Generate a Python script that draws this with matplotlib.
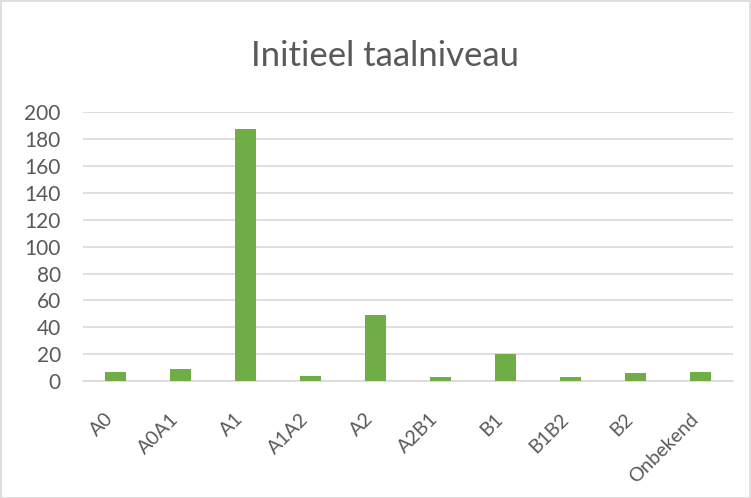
import matplotlib
matplotlib.use("Agg")
import matplotlib.pyplot as plt
from matplotlib.patches import Rectangle
from matplotlib.transforms import ScaledTranslation

# taalniveau bij start
niveaus = ["A0", "A0A1", "A1", "A1A2", "A2", "A2B1", "B1", "B1B2", "B2", "Onbekend"]
aantallen = [7, 9, 187, 4, 49, 3, 20, 3, 6, 7]
y_ticks = [0, 20, 40, 60, 80, 100, 120, 140, 160, 180, 200]

groen = "#70ad47"
tekst = "#595959"
grid = "#d9d9d9"

plt.rcParams["font.family"] = ["Lato", "DejaVu Sans"]

fig = plt.figure(figsize=(7.51, 4.98), dpi=100)
ax = fig.add_axes([0.1105, 0.234, 0.8655, 0.542])

x = range(len(niveaus))
ax.bar(x, aantallen, width=0.31, color=groen, zorder=3)

ax.set_xlim(-0.5, len(niveaus) - 0.5)
ax.set_ylim(0, 200)
ax.set_yticks(y_ticks)
ax.set_xticks(list(x))
ax.set_xticklabels(niveaus, rotation=45, ha="right", va="center", rotation_mode="anchor")
ax.tick_params(axis="y", length=0, pad=16, labelsize=15, labelcolor=tekst)
ax.tick_params(axis="x", length=0, pad=25, labelsize=14, labelcolor=tekst)

# labels iets naar links schuiven
verschuif = ScaledTranslation(-5 / 100, 0, fig.dpi_scale_trans)
for lbl in ax.get_xticklabels():
    lbl.set_transform(lbl.get_transform() + verschuif)

ax.grid(axis="y", color=grid, linewidth=1.2, zorder=0)
for s in ["top", "right", "left"]:
    ax.spines[s].set_visible(False)
ax.spines["bottom"].set_color(grid)
ax.spines["bottom"].set_linewidth(1.2)

fig.text(385 / 751, 1 - 56 / 498, "Initieel taalniveau", ha="center", va="center",
         fontsize=25, color=tekst)

# kader om de grafiek
fig.patches.append(Rectangle((0.001, 0.001), 0.998, 0.997, transform=fig.transFigure,
                             fill=False, edgecolor=grid, linewidth=1.2))

fig.savefig("out.png", dpi=100)
